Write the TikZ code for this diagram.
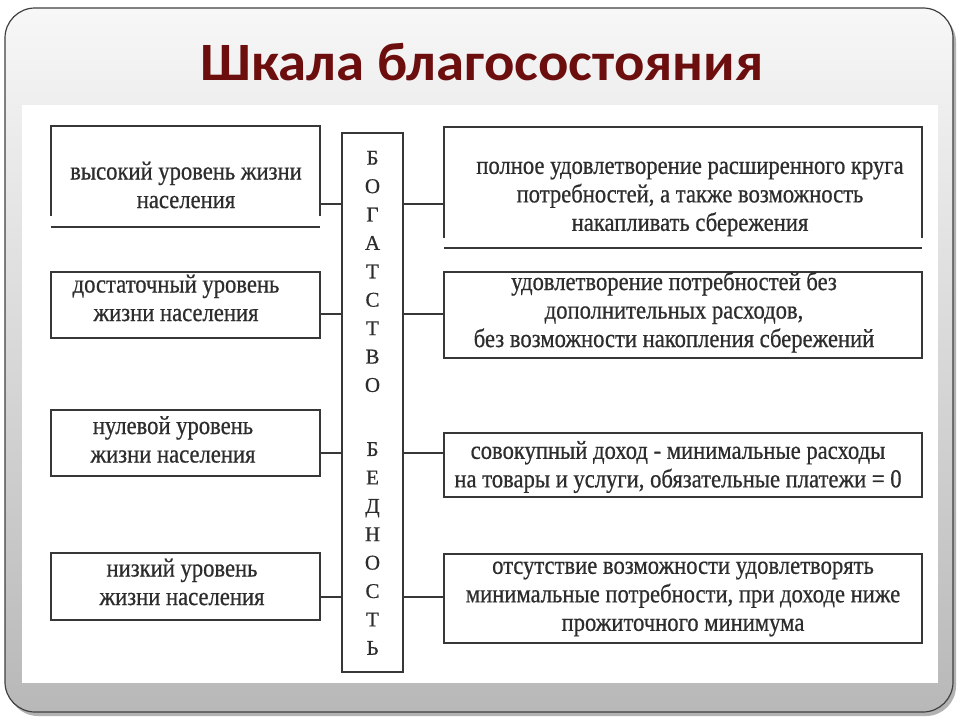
\documentclass[tikz,border=0pt]{standalone}
\usepackage{fontspec}
\setmainfont{Liberation Serif}
\newfontfamily\bodyfont[FakeStretch=0.87,FakeBold=0.6]{Liberation Serif}
\newfontfamily\letterfont[FakeBold=0.6]{Liberation Serif}
\newfontfamily\titlefont[FakeStretch=1.05]{Carlito}
\definecolor{titlered}{RGB}{108,14,14}
\definecolor{ink}{RGB}{45,45,45}
\definecolor{boxline}{RGB}{55,55,55}
\begin{document}
\begin{tikzpicture}[x=1pt,y=-1pt,
  boxshape/.style={draw=boxline, line width=2pt, rectangle, inner sep=0pt},
  openbox/.style={draw=none, rectangle, inner sep=0pt},
  edge/.style={draw=boxline, line width=2pt},
  txt/.style={font=\bodyfont\fontsize{26}{28.5}\selectfont, text=ink, align=center, inner sep=0pt},
  letters/.style={font=\letterfont\fontsize{21}{28.4}\selectfont, text=ink, align=center, inner sep=0pt}]
\useasboundingbox (0,0) rectangle (960,720);
\fill[white] (0,0) rectangle (960,720);
% slide frame
\fill[gray!60, rounded corners=30pt] (8,12) rectangle (956,716);
\shade[top color={rgb,255:red,247;green,247;blue,247}, bottom color={rgb,255:red,184;green,184;blue,184},
       draw=black!75, line width=1.2pt, rounded corners=30pt] (5,8) rectangle (953,712);
\fill[white] (22,105) rectangle (938,683);
% title
\node[anchor=base, text=titlered, inner sep=0pt] (title) at (482,80)
  {\titlefont\bfseries\fontsize{54}{54}\selectfont Шкала благосостояния};
% left boxes
\node[openbox, minimum width=269pt, minimum height=101pt] (L1) at (185.5,176.5) {};
\draw[edge] ([yshift=11pt]L1.south west) -- (L1.north west) -- (L1.north east) -- ([yshift=11pt]L1.south east);
\draw[edge] (L1.south west) -- (L1.south east);
\node[boxshape, minimum width=269pt, minimum height=66pt] (L2) at (185.5,304.5) {};
\node[boxshape, minimum width=269pt, minimum height=66pt] (L3) at (185.5,443) {};
\node[boxshape, minimum width=269pt, minimum height=67pt] (L4) at (185.5,586.5) {};
% centre box
\node[boxshape, minimum width=61pt, minimum height=539pt] (C) at (372.5,402.5) {};
% right boxes
\node[openbox, minimum width=478pt, minimum height=121pt] (R1) at (683,187.5) {};
\draw[edge] ([yshift=10pt]R1.south west) -- (R1.north west) -- (R1.north east) -- ([yshift=10pt]R1.south east);
\draw[edge] (R1.south west) -- (R1.south east);
\node[boxshape, minimum width=478pt, minimum height=86pt] (R2) at (683,315) {};
\node[boxshape, minimum width=478pt, minimum height=64pt] (R3) at (683,465) {};
\node[boxshape, minimum width=478pt, minimum height=89pt] (R4) at (683,598.5) {};
% connector levels
\coordinate (k1) at (0,204);
\coordinate (k2) at (0,314);
\coordinate (k3) at (0,453);
\coordinate (k4) at (0,597);
\foreach \i in {1,2,3,4}{
  \draw[edge] (L\i.east |- k\i) -- (C.west |- k\i);
  \draw[edge] (C.east |- k\i) -- (R\i.west |- k\i);
}
% left texts
\node[txt] (tL1) at (186,185) {высокий уровень жизни\\населения};
\node[txt] (tL2) at (176,298) {достаточный уровень\\жизни населения};
\node[txt] (tL3) at (173,439.5) {нулевой уровень\\жизни населения};
\node[txt] (tL4) at (182,582) {низкий уровень\\жизни населения};
% centre letters
\node[letters] (w1) at (372.5,271.5) {Б\\О\\Г\\А\\Т\\С\\Т\\В\\О};
\node[letters] (w2) at (372.5,548.5) {Б\\Е\\Д\\Н\\О\\С\\Т\\Ь};
% right texts
\node[txt] (tR1) at (690,199) {полное удовлетворение расширенного круга\\потребностей, а также возможность\hspace*{28pt}\\накапливать сбережения};
\node[txt] (tR2) at (674,312) {удовлетворение потребностей без\\дополнительных расходов,\\без возможности накопления сбережений};
\node[txt] (tR3) at (678,467) {совокупный доход - минимальные расходы\\на товары и услуги, обязательные платежи = 0};
\node[txt] (tR4) at (683,599) {отсутствие возможности удовлетворять\\минимальные потребности, при доходе ниже\\прожиточного минимума};
\end{tikzpicture}
\end{document}
